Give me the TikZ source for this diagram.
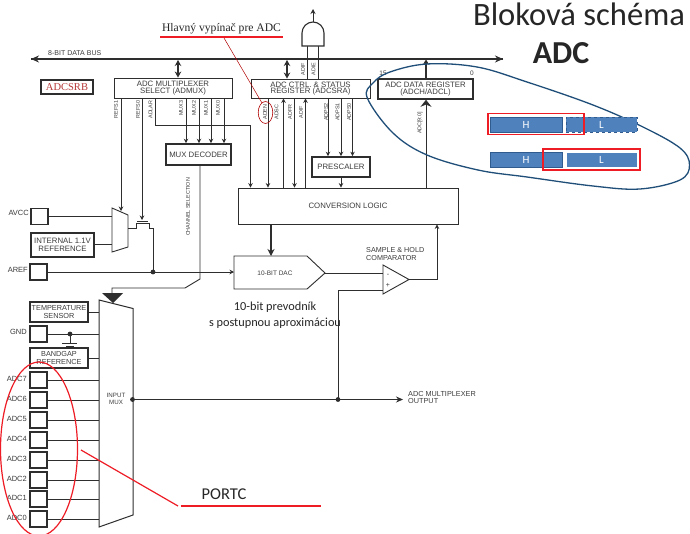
\documentclass[tikz,border=0pt]{standalone}
\usepackage{fontspec}
\setmainfont{Liberation Sans}
\newfontfamily\carl{Carlito}
\newfontfamily\lserif{Liberation Serif}
\usetikzlibrary{arrows.meta}
\definecolor{inkc}{HTML}{2E2E2E}
\definecolor{txtc}{HTML}{3C3C3C}
\definecolor{navyc}{HTML}{1F4E79}
\definecolor{barc}{HTML}{4F81BD}
\definecolor{bard}{HTML}{2F5B8F}
\definecolor{redc}{HTML}{EE1C25}
\tikzset{
  x=1pt,y=-1pt,
  sig/.style={draw=inkc,line width=0.8pt,-{Stealth[length=4.5pt,width=4.5pt]}},
  wire/.style={draw=inkc,line width=0.8pt},
  bus/.style={draw=inkc,line width=1.6pt},
  dbl/.style={draw=inkc,line width=1.8pt,{Stealth[length=6pt,width=6.5pt]}-{Stealth[length=6pt,width=6.5pt]}},
  box/.style={draw=inkc,line width=0.9pt,fill=white,inner sep=0pt,text=txtc,align=center,font=\fontsize{7.8}{6.8}\selectfont},
  tbox/.style={box,line width=1.6pt},
  pin/.style={tbox,minimum width=17,minimum height=16},
  lab/.style={text=txtc,inner sep=0pt,font=\fontsize{5.4}{6}\selectfont},
  vlab/.style={lab,rotate=90},
  pinlab/.style={text=txtc,inner sep=0pt,anchor=east,font=\fontsize{7.5}{8}\selectfont},
  txt/.style={text=txtc,inner sep=0pt,align=left,font=\fontsize{7.5}{7.5}\selectfont},
  bar/.style={draw=bard,line width=0.9pt,fill=barc,text=white,inner sep=0pt,minimum height=15,font=\carl\fontsize{11}{12}\selectfont},
  redbox/.style={draw=redc,line width=1.3pt},
  redl/.style={draw=redc,line width=1.2pt},
  note/.style={text=black!85,inner sep=0pt,font=\carl\fontsize{12.3}{16.5}\selectfont,align=center}
}
\begin{document}
\begin{tikzpicture}
\useasboundingbox (0,0) rectangle (690,533);
\fill[white] (0,0) rectangle (690,533);
% title
\node[note,font=\carl\fontsize{32.6}{34}\selectfont] (title) at (579,14) {Bloková schéma};
\node[note,font=\carl\bfseries\fontsize{32}{33}\selectfont] (adct) at (561,53) {ADC};
% bus
\coordinate (busL) at (31,59); \coordinate (busR) at (503,59);
\draw[bus,-{Stealth[length=8pt,width=7pt]}] (busL) -- (busR);
\draw[bus,-{Stealth[length=8pt,width=7pt]}] (busR) -- (busL);
\node[txt,anchor=west,font=\fontsize{7}{7}\selectfont] (bustxt) at (48,53.5) {8-BIT DATA BUS};
% boxes
\node[box,minimum width=118,minimum height=20] (admux) at (173,88) {ADC MULTIPLEXER\\SELECT (ADMUX)};
\node[box,minimum width=119,minimum height=19] (adcsra) at (310.5,88.5) {ADC CTRL. \& STATUS\\REGISTER (ADCSRA)};
\node[tbox,minimum width=95,minimum height=20] (adcdata) at (425.5,89) {ADC DATA REGISTER\\(ADCH/ADCL)};
\node[tbox,line width=1.2pt,minimum width=52,minimum height=14,text=red!60!black!70!pink,font=\lserif\fontsize{10.5}{11}\selectfont] (adcsrb) at (67,87) {ADCSRB};
\node[tbox,minimum width=65,minimum height=21] (muxdec) at (198.5,154.5) {MUX DECODER};
\node[tbox,minimum width=58,minimum height=20] (presc) at (341,167) {PRESCALER};
\node[box,minimum width=220,minimum height=36] (conv) at (348,206) {CONVERSION LOGIC};
% bus links
\draw[dbl] (178,60) coordinate (b1) -- (admux.north -| b1);
\draw[dbl] (287,60) coordinate (b2) -- (adcsra.north -| b2);
\draw[draw=inkc,line width=1.6pt,-{Stealth[length=5pt,width=6pt]}] (adcdata.north -| 426,0) -- (426,59.5);
% AND gate
\draw[wire] (307,46) -- (307,79);
\draw[wire] (318,46) -- (318,79);
\draw[inkc,line width=1.1pt,fill=white] (302,46) -- (302,33) arc[start angle=180,end angle=360,x radius=11,y radius=11] -- (324,46) -- cycle;
\draw[draw=inkc,line width=0.8pt,-{Stealth[length=5pt,width=5pt]}] (313,22) -- (313,9);
\node[vlab] (adif1) at (303,69) {ADIF};
\node[vlab] (adie1) at (313.5,69) {ADIE};
% admux outputs
\coordinate (refa) at (121,211); \coordinate (refb) at (142,220);
\draw[sig] (admux.south -| refa) -- (refa);
\draw[sig] (admux.south -| refb) -- (refb);
\draw[sig] (admux.south -| 155,0) -- (155,125.5) -- (250.5,125.5) -- (conv.north -| 250.5,0);
\foreach \x in {186,199,211,224} \draw[sig] (admux.south -| \x,0) -- (muxdec.north -| \x,0);
\node[vlab] (l1) at (116,109.5) {REFS1};
\node[vlab] (l2) at (138,109.5) {REFS0};
\node[vlab] (l3) at (150.5,109.5) {ADLAR};
\node[vlab] (l4) at (181,108) {MUX3};
\node[vlab] (l5) at (194,108) {MUX2};
\node[vlab] (l6) at (206,108) {MUX1};
\node[vlab] (l7) at (218,108) {MUX0};
% adcsra outputs
\draw[sig] (adcsra.south -| 268,0) -- (conv.north -| 268,0);
\draw[sig] (conv.north -| 283.5,0) -- (adcsra.south -| 283.5,0);
\draw[sig] (adcsra.south -| 294.5,0) -- (conv.north -| 294.5,0);
\draw[sig] (conv.north -| 305.5,0) -- (adcsra.south -| 305.5,0);
\foreach \x in {328,341,352.5} \draw[sig] (adcsra.south -| \x,0) -- (presc.north -| \x,0);
\draw[sig] (presc.south) -- (conv.north -| presc.south);
\node[vlab] (l8) at (265,112) {ADEN};
\node[vlab] (l9) at (276.5,112) {ADSC};
\node[vlab] (l10) at (290,112) {ADFR};
\node[vlab] (l11) at (301,112) {ADIF};
\node[vlab] (l12) at (326,112) {ADPS2};
\node[vlab] (l13) at (337.5,112) {ADPS1};
\node[vlab] (l14) at (349,112) {ADPS0};
% data register input
\draw[draw=inkc,line width=0.8pt] (conv.north -| 426,0) -- (426,105);
\draw[draw=inkc,line width=0.8pt,-{Stealth[length=7pt,width=11pt]}] (426,110) -- (adcdata.south -| 426,0);
\node[vlab] (l15) at (420,123) {ADC[9:0]};
\node[lab,font=\fontsize{6.5}{7}\selectfont] (n15) at (383,73.5) {15};
\node[lab,font=\fontsize{6.5}{7}\selectfont] (n0) at (472,73.5) {0};
% DAC
\node[inner sep=0pt,text=txtc,font=\fontsize{6.5}{7}\selectfont] (dac) at (275,273) {10-BIT DAC};
\draw[inkc,line width=0.9pt] (234,256) -- (307,256) -- (325,273) -- (307,289) -- (234,289) -- cycle;
\coordinate (dacin) at (234,272); \coordinate (dacout) at (325,273); \coordinate (dactop) at (271,256);
\draw[draw=inkc,line width=1.8pt,-{Stealth[length=7pt,width=7pt]}] (conv.south -| dactop) -- (dactop);
% comparator
\draw[inkc,line width=0.9pt] (383,265) coordinate (cmpa) -- (409,279.5) coordinate (cmpo) -- (383,294) coordinate (cmpb) -- cycle;
\draw[wire] (dacout) -- (383,273);
\node[lab,font=\fontsize{7}{7}\selectfont] (mn) at (388,275) {-};
\node[lab,font=\fontsize{7}{7}\selectfont] (pl) at (388,285) {+};
\draw[sig] (cmpo) -- (437,279.5) -- (conv.south -| 437,0);
\node[txt,anchor=west,font=\fontsize{7.2}{7.6}\selectfont] (sh) at (366,254) {SAMPLE \& HOLD\\COMPARATOR};
\draw[wire] (338,400) coordinate (dotb) -- (338,290) -- (383,290);
% notes
\node[note] (pr) at (275,315) {10-bit prevodník\\s postupnou aproximáciou};
% pins
\node[pin] (avcc) at (39.5,216.5) {};
\node[pinlab] (avl) at (29,213) {AVCC};
\node[tbox,minimum width=63,minimum height=24] (intref) at (62.5,245) {INTERNAL 1.1V\\[1.5pt]REFERENCE};
\node[pin] (aref) at (38.5,272) {};
\node[pinlab] (arl) at (28,269.5) {AREF};
\node[tbox,minimum width=58,minimum height=20,font=\fontsize{7.3}{6.8}\selectfont] (temp) at (59,312) {TEMPERATURE\\[1.5pt]SENSOR};
\node[pin] (gnd) at (38.5,334) {};
\node[pinlab] (gl) at (27,332) {GND};
\node[tbox,minimum width=58,minimum height=20,font=\fontsize{7.3}{6.8}\selectfont] (bg) at (59,358) {BANDGAP\\[1.5pt]REFERENCE};
% reference mux and switch
\draw[inkc,line width=0.9pt,fill=white] (112,208) -- (128,215) -- (128,247) -- (112,252) -- cycle;
\draw[wire] (avcc.east) -- (avcc.east -| 112,0);
\draw[wire] (intref.east |- 0,244) -- (112,244);
\draw[wire] (128,228.5) -- (136,228.5) -- (136,223.5) -- (149,223.5) -- (149,228.5) -- (153,228.5) -- (153,272) coordinate (dotA);
\draw[wire] (137,221.5) -- (148,221.5);
\draw[sig] (aref.east) -- (dacin);
\fill[inkc] (dotA) circle[radius=2.4];
% input mux
\draw[inkc,line width=1pt,fill=white] (99,300) -- (133,308.5) -- (133,515) -- (99,527) -- cycle;
\node[lab,font=\fontsize{6.2}{7}\selectfont,align=center] (imx) at (116,398.5) {INPUT\\MUX};
\draw[wire] (temp.east) -- (99,312);
\draw[wire] (gnd.east) -- (99,334);
\draw[wire] (bg.east) -- (99,358);
\fill[inkc] (70,334) coordinate (gd) circle[radius=2.4];
\draw[wire] (gd) -- (70,343);
\draw[wire] (62,343) -- (77,343);
\draw[wire] (66,346) -- (74,346);
% ADC pins
\foreach \n/\y in {7/380,6/400,5/420,4/440,3/460,2/480,1/499,0/519}{
  \node[pin] (adc\n) at (38.5,\y) {};
  \node[pinlab] (adcl\n) at (27,\y-1.5) {ADC\n};
  \draw[wire] (adc\n.east) -- (99,\y);
}
% channel selection
\draw[inkc,line width=0.9pt] (muxdec.south -| 200,0) -- (200,279) -- (185,288) -- (112,288) -- (112,296);
\fill[inkc] (102,293) -- (123,293) -- (113,303) -- cycle;
\node[vlab] (chs) at (188,207) {CHANNEL SELECTION};
% mux output
\coordinate (dotC) at (132.5,399.5);
\draw[draw=inkc,line width=0.8pt,-{Stealth[length=7pt,width=6pt]}] (dotC) -- (403,399.5);
\fill[inkc] (dotC) circle[radius=2.4];
\fill[inkc] (338,399.5) circle[radius=2.4];
\node[txt,anchor=west,font=\fontsize{7.3}{7.8}\selectfont] (mo) at (408,397.5) {ADC MULTIPLEXER\\OUTPUT};
% Hlavny
\node[inner sep=0pt,text=black!85,font=\lserif\fontsize{11.6}{12}\selectfont] (hl) at (221.5,29) {Hlavný vypínač pre ADC};
\draw[redc,line width=2.8pt] (160,37) -- (283,37);
\draw[draw=red!70!black,line width=0.5pt] (224,38) -- (262,103);
\draw[draw=red!70!black,line width=0.6pt] (265.5,112.5) ellipse[x radius=7.3,y radius=11];
% big ellipse
\draw[navyc,line width=1.3pt] plot[smooth cycle,tension=0.6] coordinates {(367.3,98) (373,83) (390,72) (427,64) (477,67) (527,82) (593,105) (643,127) (680,148) (689.5,165) (680,180) (640,189) (593,186) (527,177) (478,170) (427,155) (393,133)};
% bars
\node[bar,minimum width=72] (h1) at (526,124.5) {H};
\node[bar,minimum width=71,dashed] (l1b) at (601.5,124.5) {L};
\node[bar,minimum width=72] (h2) at (526,159.5) {H};
\node[bar,minimum width=71,draw=white] (l2b) at (601.5,159.5) {L};
\draw[redbox] (488,113.5) rectangle (584,134.5);
\draw[redbox] (543,149) rectangle (640,170);
% left ellipse
\draw[redc,line width=1.2pt] (39,449) ellipse[x radius=38.5,y radius=87];
\draw[redl] (81,450) -- (178,506);
\draw[redl] (180.5,506) -- (321,506);
\node[note,font=\carl\fontsize{16.5}{17}\selectfont] (portc) at (224,494) {PORTC};
\end{tikzpicture}
\end{document}
